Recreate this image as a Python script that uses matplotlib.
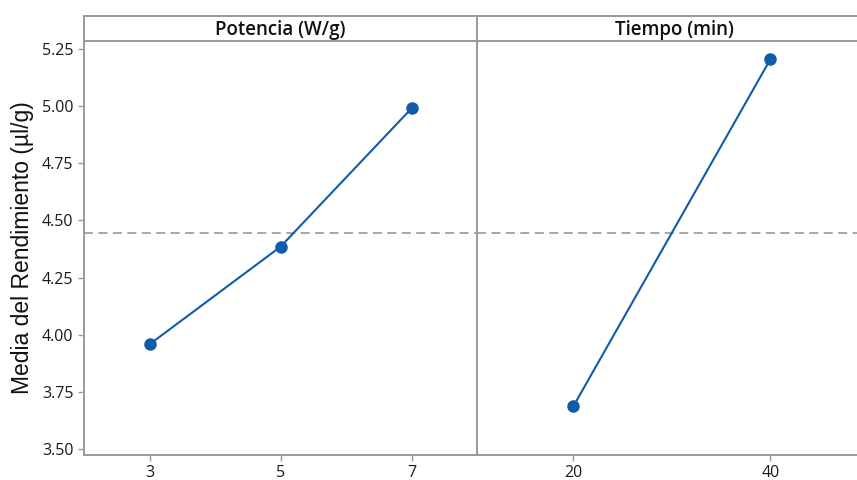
import matplotlib
matplotlib.use("Agg")
import matplotlib.pyplot as plt

# Main effects data
potencia_levels = ["3", "5", "7"]
potencia_means = [3.958, 4.385, 4.990]
tiempo_levels = ["20", "40"]
tiempo_means = [3.688, 5.205]
grand_mean = 4.443

y_ticks = [3.50, 3.75, 4.00, 4.25, 4.50, 4.75, 5.00, 5.25]
panel_titles = ["Potencia (W/g)", "Tiempo (min)"]
y_label = "Media del Rendimiento (µl/g)"

line_color = "#0F5CAB"
frame_color = "#9A9A9A"
ylim = (3.474, 5.285)

plt.rcParams['font.family'] = ['Open Sans', 'DejaVu Sans']

fig = plt.figure(figsize=(8.57, 4.8), dpi=100)
fig.patch.set_facecolor('white')

left, split, right = 84 / 857, 477 / 857, 1.0
bottom, top, header_top = 1 - 455 / 480, 1 - 41 / 480, 1 - 16 / 480

ax1 = fig.add_axes([left, bottom, split - left, top - bottom])
ax2 = fig.add_axes([split, bottom, right - split, top - bottom], sharey=ax1)
ax2.patch.set_visible(False)  # keep the divider line fully visible

panels = [
    (ax1, potencia_levels, potencia_means, (-0.5, 2.5)),
    (ax2, tiempo_levels, tiempo_means, (-0.49, 1.44)),
]
for ax, levels, means, xl in panels:
    xs = list(range(len(levels)))
    ax.plot(xs, means, color=line_color, lw=1.5, marker='o', ms=8,
            markeredgecolor=line_color, zorder=3)
    ax.axhline(grand_mean, color="#A0A0A0", lw=1.3, ls=(0, (5, 3)), zorder=1)
    ax.set_xticks(xs)
    ax.set_xticklabels(levels)
    ax.set_xlim(*xl)
    ax.set_ylim(*ylim)
    for s in ax.spines.values():
        s.set_color(frame_color)
        s.set_linewidth(1.4)
    ax.spines['top'].set_visible(False)
    ax.tick_params(axis='both', colors=frame_color, labelcolor='#1a1a1a',
                   labelsize=11.5, length=4, width=1)

ax2.spines['right'].set_visible(False)
ax2.spines['left'].set_visible(False)
ax2.tick_params(axis='y', left=False, labelleft=False)

ax1.set_yticks(y_ticks)
ax1.set_yticklabels([f"{v:.2f}" for v in y_ticks])
ax1.set_ylabel(y_label, fontsize=16.5, color='#111111', labelpad=6,
               family=['Liberation Sans', 'DejaVu Sans'])

# Header strip with panel titles
hdr = fig.add_axes([left, top, right - left, header_top - top])
hdr.set_xlim(left, right)
hdr.set_ylim(0, 1)
hdr.set_xticks([])
hdr.set_yticks([])
for s in hdr.spines.values():
    s.set_color(frame_color)
    s.set_linewidth(1.4)
hdr.spines['right'].set_visible(False)
hdr.axvline(split, color=frame_color, lw=1.4)
hdr.text((left + split) / 2, 0.45, panel_titles[0], ha='center', va='center',
         fontsize=13.5, fontweight='semibold', color='#111111')
hdr.text((split + 871 / 857) / 2, 0.45, panel_titles[1], ha='center', va='center',
         fontsize=13.5, fontweight='semibold', color='#111111')

fig.savefig("out.png", dpi=100)
